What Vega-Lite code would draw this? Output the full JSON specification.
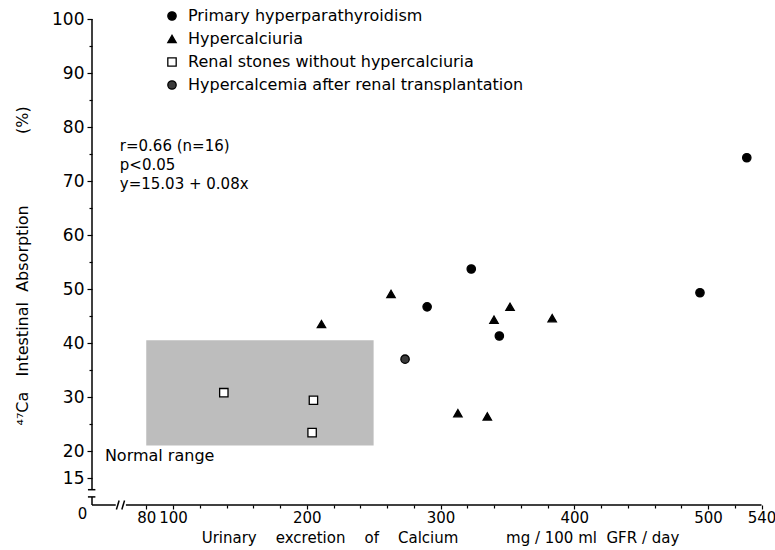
{
  "$schema": "https://vega.github.io/schema/vega-lite/v6.json",
  "autosize": "none",
  "width": 670,
  "height": 486,
  "padding": {"left": 92, "top": 19, "right": 13, "bottom": 45},
  "background": "white",
  "config": {
    "font": "DejaVu Sans",
    "view": {"stroke": null},
    "axis": {
      "grid": false,
      "domain": false,
      "tickColor": "black",
      "tickWidth": 1.2,
      "labelColor": "black",
      "titleColor": "black",
      "titleFontWeight": "normal",
      "labelFont": "DejaVu Sans",
      "titleFont": "DejaVu Sans"
    },
    "legend": {
      "title": null,
      "orient": "none",
      "legendX": 72,
      "legendY": -11,
      "direction": "vertical",
      "padding": 0,
      "rowPadding": 7,
      "symbolSize": 70,
      "symbolStrokeWidth": 1.3,
      "labelFontSize": 16,
      "labelFont": "DejaVu Sans",
      "labelOffset": 8,
      "labelColor": "black",
      "labelLimit": 600
    }
  },
  "data": {"values": [{}]},
  "datasets": {
    "patients": [
      {"group": "Primary hyperparathyroidism", "calcium": 323, "absorption": 53.7},
      {"group": "Primary hyperparathyroidism", "calcium": 290, "absorption": 46.7},
      {"group": "Primary hyperparathyroidism", "calcium": 344, "absorption": 41.3},
      {"group": "Primary hyperparathyroidism", "calcium": 494, "absorption": 49.3},
      {"group": "Primary hyperparathyroidism", "calcium": 529, "absorption": 74.3},
      {"group": "Hypercalciuria", "calcium": 211, "absorption": 43.5},
      {"group": "Hypercalciuria", "calcium": 263, "absorption": 49.1},
      {"group": "Hypercalciuria", "calcium": 340, "absorption": 44.3},
      {"group": "Hypercalciuria", "calcium": 352, "absorption": 46.7},
      {"group": "Hypercalciuria", "calcium": 383.5, "absorption": 44.6},
      {"group": "Hypercalciuria", "calcium": 313, "absorption": 27.0},
      {"group": "Hypercalciuria", "calcium": 335, "absorption": 26.4},
      {"group": "Renal stones without hypercalciuria", "calcium": 138, "absorption": 30.8},
      {"group": "Renal stones without hypercalciuria", "calcium": 205, "absorption": 29.4},
      {"group": "Renal stones without hypercalciuria", "calcium": 204, "absorption": 23.4},
      {"group": "Hypercalcemia after renal transplantation", "calcium": 273.5, "absorption": 37.0}
    ]
  },
  "layer": [
    {
      "mark": {"type": "rect", "fill": "#bdbdbd"},
      "encoding": {
        "x": {"datum": 80, "type": "quantitative",
          "scale": {"domain": [0, 80, 540], "range": [0, 54.25, 669.5], "nice": false, "zero": false},
          "axis": {"orient": "bottom", "values": [120, 140, 160, 180, 220, 240, 260, 280, 320, 340, 360, 380, 420, 440, 460, 480, 520], "labels": false, "tickSize": 3, "title": null}},
        "x2": {"datum": 250},
        "y": {"datum": 21, "type": "quantitative",
          "scale": {"domain": [0, 15, 100], "range": [486, 459, 0], "nice": false, "zero": false},
          "axis": {"orient": "left", "values": [25, 35, 45, 55, 65, 75, 85, 95], "labels": false, "tickSize": 3, "title": null}},
        "y2": {"datum": 40.5}
      }
    },
    {
      "mark": {"type": "rule", "color": "black", "strokeWidth": 1.5},
      "encoding": {
        "x": {"datum": 0, "type": "quantitative", "scale": {"domain": [0, 80, 540], "range": [0, 54.25, 669.5], "nice": false, "zero": false}, "axis": null},
        "x2": {"datum": 35},
        "y": {"datum": 0, "type": "quantitative", "scale": {"domain": [0, 15, 100], "range": [486, 459, 0], "nice": false, "zero": false}, "axis": null}
      }
    },
    {
      "mark": {"type": "rule", "color": "black", "strokeWidth": 1.5},
      "encoding": {
        "x": {"datum": 36, "type": "quantitative", "scale": {"domain": [0, 80, 540], "range": [0, 54.25, 669.5], "nice": false, "zero": false}, "axis": null},
        "x2": {"datum": 40},
        "y": {"datum": -2.5, "type": "quantitative", "scale": {"domain": [0, 15, 100], "range": [486, 459, 0], "nice": false, "zero": false}, "axis": null},
        "y2": {"datum": 2.5}
      }
    },
    {
      "mark": {"type": "rule", "color": "black", "strokeWidth": 1.5},
      "encoding": {
        "x": {"datum": 44, "type": "quantitative", "scale": {"domain": [0, 80, 540], "range": [0, 54.25, 669.5], "nice": false, "zero": false}, "axis": null},
        "x2": {"datum": 48},
        "y": {"datum": -2.5, "type": "quantitative", "scale": {"domain": [0, 15, 100], "range": [486, 459, 0], "nice": false, "zero": false}, "axis": null},
        "y2": {"datum": 2.5}
      }
    },
    {
      "mark": {"type": "rule", "color": "black", "strokeWidth": 1.5},
      "encoding": {
        "x": {"datum": 50, "type": "quantitative", "scale": {"domain": [0, 80, 540], "range": [0, 54.25, 669.5], "nice": false, "zero": false}, "axis": null},
        "x2": {"datum": 540},
        "y": {"datum": 0, "type": "quantitative", "scale": {"domain": [0, 15, 100], "range": [486, 459, 0], "nice": false, "zero": false}, "axis": null}
      }
    },
    {
      "mark": {"type": "rule", "color": "black", "strokeWidth": 1.5},
      "encoding": {
        "x": {"datum": 0, "type": "quantitative", "scale": {"domain": [0, 80, 540], "range": [0, 54.25, 669.5], "nice": false, "zero": false}, "axis": null},
        "y": {"datum": 0, "type": "quantitative", "scale": {"domain": [0, 15, 100], "range": [486, 459, 0], "nice": false, "zero": false}, "axis": null},
        "y2": {"datum": 4.5}
      }
    },
    {
      "mark": {"type": "rule", "color": "black", "strokeWidth": 1.5},
      "encoding": {
        "x": {"datum": -6, "type": "quantitative", "scale": {"domain": [0, 80, 540], "range": [0, 54.25, 669.5], "nice": false, "zero": false}, "axis": null},
        "x2": {"datum": 5},
        "y": {"datum": 4.5, "type": "quantitative", "scale": {"domain": [0, 15, 100], "range": [486, 459, 0], "nice": false, "zero": false}, "axis": null}
      }
    },
    {
      "mark": {"type": "rule", "color": "black", "strokeWidth": 1.5},
      "encoding": {
        "x": {"datum": -6, "type": "quantitative", "scale": {"domain": [0, 80, 540], "range": [0, 54.25, 669.5], "nice": false, "zero": false}, "axis": null},
        "x2": {"datum": 5},
        "y": {"datum": 8.5, "type": "quantitative", "scale": {"domain": [0, 15, 100], "range": [486, 459, 0], "nice": false, "zero": false}, "axis": null}
      }
    },
    {
      "mark": {"type": "rule", "color": "black", "strokeWidth": 1.5},
      "encoding": {
        "x": {"datum": 0, "type": "quantitative", "scale": {"domain": [0, 80, 540], "range": [0, 54.25, 669.5], "nice": false, "zero": false}, "axis": null},
        "y": {"datum": 8.5, "type": "quantitative", "scale": {"domain": [0, 15, 100], "range": [486, 459, 0], "nice": false, "zero": false}, "axis": null},
        "y2": {"datum": 100}
      }
    },
    {
      "mark": {"type": "text", "align": "left", "baseline": "middle", "fontSize": 16, "color": "black", "text": "Normal range"},
      "encoding": {
        "x": {"datum": 19, "type": "quantitative", "scale": {"domain": [0, 80, 540], "range": [0, 54.25, 669.5], "nice": false, "zero": false}, "axis": null},
        "y": {"datum": 19, "type": "quantitative", "scale": {"domain": [0, 15, 100], "range": [486, 459, 0], "nice": false, "zero": false}, "axis": null}
      }
    },
    {
      "mark": {"type": "text", "align": "left", "baseline": "top", "fontSize": 15, "lineHeight": 19, "color": "black",
        "text": ["r=0.66 (n=16)", "p<0.05", "y=15.03 + 0.08x"]},
      "encoding": {
        "x": {"datum": 41, "type": "quantitative", "scale": {"domain": [0, 80, 540], "range": [0, 54.25, 669.5], "nice": false, "zero": false}, "axis": null},
        "y": {"datum": 77.8, "type": "quantitative", "scale": {"domain": [0, 15, 100], "range": [486, 459, 0], "nice": false, "zero": false}, "axis": null}
      }
    },
    {
      "data": {"name": "patients"},
      "mark": {"type": "point", "filled": true, "strokeWidth": 1.3, "opacity": 1, "size": 70},
      "encoding": {
        "x": {"field": "calcium", "type": "quantitative",
          "scale": {"domain": [0, 80, 540], "range": [0, 54.25, 669.5], "nice": false, "zero": false},
          "axis": {
            "orient": "bottom",
            "values": [0, 80, 100, 200, 300, 400, 500, 540],
            "tickSize": {"condition": {"test": "datum.value === 0", "value": 0}, "value": 4},
            "labelOffset": {"condition": {"test": "datum.value === 0", "value": -10}, "value": 0},
            "labelFontSize": 15,
            "labelPadding": 1,
            "labelOverlap": false,
            "labelFlush": false,
            "title": "Urinary\u00a0\u00a0\u00a0 excretion\u00a0\u00a0\u00a0 of\u00a0\u00a0\u00a0 Calcium\u00a0\u00a0\u00a0\u00a0\u00a0\u00a0\u00a0\u00a0\u00a0 mg / 100 ml\u00a0 GFR / day",
            "titleFontSize": 15,
            "titleX": 348,
            "titleY": 32,
            "titleAlign": "center",
            "titleBaseline": "middle"
          }},
        "y": {"field": "absorption", "type": "quantitative",
          "scale": {"domain": [0, 15, 100], "range": [486, 459, 0], "nice": false, "zero": false},
          "axis": {
            "orient": "left",
            "values": [15, 20, 30, 40, 50, 60, 70, 80, 90, 100],
            "tickSize": 5,
            "labelFontSize": 17,
            "labelPadding": 3,
            "labelOverlap": false,
            "labelFlush": false,
            "title": "\u2074\u2077Ca\u00a0\u00a0 Intestinal\u00a0 Absorption\u00a0\u00a0\u00a0\u00a0\u00a0\u00a0\u00a0\u00a0\u00a0\u00a0\u00a0\u00a0\u00a0 (%)",
            "titleFontSize": 16,
            "titleX": -70,
            "titleY": 406,
            "titleAlign": "left",
            "titleBaseline": "middle"
          }},
        "shape": {"field": "group", "type": "nominal",
          "scale": {"domain": ["Primary hyperparathyroidism", "Hypercalciuria", "Renal stones without hypercalciuria", "Hypercalcemia after renal transplantation"],
            "range": ["circle", "triangle-up", "square", "circle"]},
          "legend": {
            "encode": {"labels": {"update": {"fontStyle": {"signal": "datum.label === 'Renal stones without hypercalciuria' ? 'italic' : 'normal'"}}}}}},
        "fill": {"field": "group", "type": "nominal",
          "scale": {"domain": ["Primary hyperparathyroidism", "Hypercalciuria", "Renal stones without hypercalciuria", "Hypercalcemia after renal transplantation"],
            "range": ["black", "black", "white", "#3a3a3a"]},
          "legend": {
            "encode": {"labels": {"update": {"fontStyle": {"signal": "datum.label === 'Renal stones without hypercalciuria' ? 'italic' : 'normal'"}}}}}},
        "stroke": {"field": "group", "type": "nominal",
          "scale": {"domain": ["Primary hyperparathyroidism", "Hypercalciuria", "Renal stones without hypercalciuria", "Hypercalcemia after renal transplantation"],
            "range": ["black", "black", "black", "black"]},
          "legend": {
            "encode": {"labels": {"update": {"fontStyle": {"signal": "datum.label === 'Renal stones without hypercalciuria' ? 'italic' : 'normal'"}}}}}}
      }
    }
  ],
  "resolve": {"axis": {"x": "independent", "y": "independent"}}
}
